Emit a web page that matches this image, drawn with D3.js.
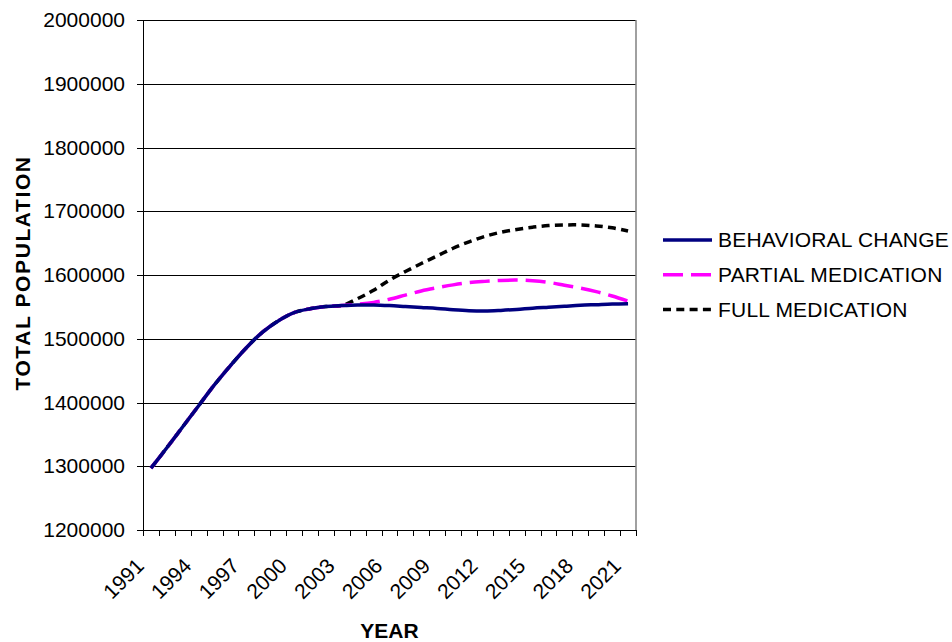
<!DOCTYPE html>
<html>
<head>
<meta charset="utf-8">
<script src="https://cdn.jsdelivr.net/npm/d3@7"></script>
<style>
  body { margin: 0; background: #fff; }
  text { font-family: "Liberation Sans", Arial, sans-serif; }
</style>
</head>
<body>
<div id="chart-area"></div>
<script>

// Data
let years = ["1991","1992","1993","1994","1995","1996","1997","1998","1999","2000",
             "2001","2002","2003","2004","2005","2006","2007","2008","2009","2010",
             "2011","2012","2013","2014","2015","2016","2017","2018","2019","2020","2021"];

let behavioral = [1297000, 1329000, 1362000, 1395000, 1428000, 1458000, 1486000, 1510000, 1528000, 1541000,
                  1547000, 1550500, 1552000, 1553000, 1553000, 1552000, 1550500, 1549000, 1547500, 1545500,
                  1544000, 1543500, 1544500, 1546000, 1548000, 1549500, 1551000, 1552500, 1553500, 1554500, 1555000];

let partial = [1297000, 1329000, 1362000, 1395000, 1428000, 1458000, 1486000, 1510000, 1528000, 1541000,
               1547000, 1550500, 1552000, 1554000, 1557000, 1562000, 1568500, 1575000, 1580000, 1584500,
               1588000, 1590000, 1591500, 1592000, 1591000, 1588500, 1584000, 1579500, 1574000, 1567000, 1559000];

let full = [1297000, 1329000, 1362000, 1395000, 1428000, 1458000, 1486000, 1510000, 1528000, 1541000,
            1547000, 1550500, 1552000, 1563000, 1576000, 1592000, 1605500, 1618000, 1630000, 1642000,
            1652000, 1660500, 1667000, 1671500, 1675000, 1677500, 1678500, 1678500, 1677000, 1674000, 1669000];

let yTicks = [1200000, 1300000, 1400000, 1500000, 1600000, 1700000, 1800000, 1900000, 2000000];
let xLabels = ["1991","1994","1997","2000","2003","2006","2009","2012","2015","2018","2021"];

let seriesNames = ["BEHAVIORAL CHANGE", "PARTIAL MEDICATION", "FULL MEDICATION"];
let seriesColors = ["#000080", "#ff00ff", "#000000"];
let seriesDash = [null, "20,8", "8,5.3"];

// SVG drawing area
let margin = {top: 20, right: 316, bottom: 112, left: 143};
let width = 952 - margin.left - margin.right,
    height = 642 - margin.top - margin.bottom;

let svg = d3.select("#chart-area").append("svg")
    .attr("width", 952)
    .attr("height", 642)
  .append("g")
    .attr("transform", "translate(" + margin.left + "," + margin.top + ")");

// Scales
let x = d3.scaleBand()
    .domain(years)
    .range([0, width]);

let xEdge = d3.scaleLinear()
    .domain([0, years.length])
    .range([0, width]);

let y = d3.scaleLinear()
    .domain([1200000, 2000000])
    .range([height, 0]);

// gridlines
svg.append("g")
    .attr("class", "grid")
    .call(d3.axisLeft(y).tickValues(yTicks).tickSize(-width).tickFormat(""))
    .call(g => g.select(".domain").remove())
    .selectAll("line")
    .attr("stroke", "#000")
    .attr("shape-rendering", "crispEdges");

// right border of plot
svg.append("line")
    .attr("x1", width).attr("x2", width)
    .attr("y1", 0).attr("y2", height)
    .attr("stroke", "#808080")
    .attr("stroke-width", 1.5);

// y axis
let yg = svg.append("g")
    .call(d3.axisLeft(y).tickValues(yTicks).tickSize(6).tickPadding(12).tickFormat(d3.format("d")));
yg.selectAll("text")
    .style("font-size", "21px")
    .attr("fill", "#000");
yg.selectAll("line, path").attr("stroke", "#000").attr("shape-rendering", "crispEdges");

// x axis (ticks between categories)
let xg = svg.append("g")
    .attr("transform", "translate(0," + height + ")")
    .call(d3.axisBottom(xEdge).tickValues(d3.range(0, years.length + 1)).tickSize(6).tickFormat(""));
xg.selectAll("line, path").attr("stroke", "#000").attr("shape-rendering", "crispEdges");

// x labels rotated
svg.append("g").selectAll("text")
    .data(xLabels)
    .enter()
    .append("text")
    .attr("text-anchor", "end")
    .attr("dy", "0.35em")
    .attr("transform", d => "translate(" + (x(d) + x.bandwidth() / 2 - 11) + "," + (height + 32) + ")rotate(-45)")
    .style("font-size", "21px")
    .text(d => d);

// axis titles
svg.append("text")
    .attr("x", width / 2)
    .attr("y", height + 108)
    .attr("text-anchor", "middle")
    .style("font-size", "21px")
    .style("font-weight", "bold")
    .text("YEAR");

svg.append("text")
    .attr("transform", "translate(" + (-113) + "," + (height / 2 - 2) + ")rotate(270)")
    .attr("text-anchor", "middle")
    .style("font-size", "21px")
    .style("font-weight", "bold")
    .style("letter-spacing", "1.6px")
    .text("TOTAL POPULATION");

// Lines
let line = d3.line()
    .x((d, i) => x(years[i]) + x.bandwidth() / 2)
    .y(d => y(d))
    .curve(d3.curveCatmullRom.alpha(0.5));

let allSeries = [behavioral, partial, full];

// draw full first, behavioral last (on top)
[2, 1, 0].forEach(function(k) {
    svg.append("path")
        .datum(allSeries[k])
        .attr("fill", "none")
        .attr("stroke", seriesColors[k])
        .attr("stroke-width", 3.5)
        .attr("stroke-dasharray", seriesDash[k])
        .attr("d", line);
});

// Legend
let legend = svg.append("g")
    .attr("transform", "translate(" + (663 - margin.left) + "," + (240 - margin.top) + ")");

seriesNames.forEach(function(name, k) {
    let row = legend.append("g").attr("transform", "translate(0," + (k * 34.7) + ")");
    row.append("line")
        .attr("x1", 0).attr("x2", 49)
        .attr("y1", 0).attr("y2", 0)
        .attr("stroke", seriesColors[k])
        .attr("stroke-width", 3.5)
        .attr("stroke-dasharray", seriesDash[k]);
    row.append("text")
        .attr("x", 55)
        .attr("dy", "0.35em")
        .style("font-size", "21px")
        .style("letter-spacing", "0.2px")
        .text(name);
});

</script>
</body>
</html>
